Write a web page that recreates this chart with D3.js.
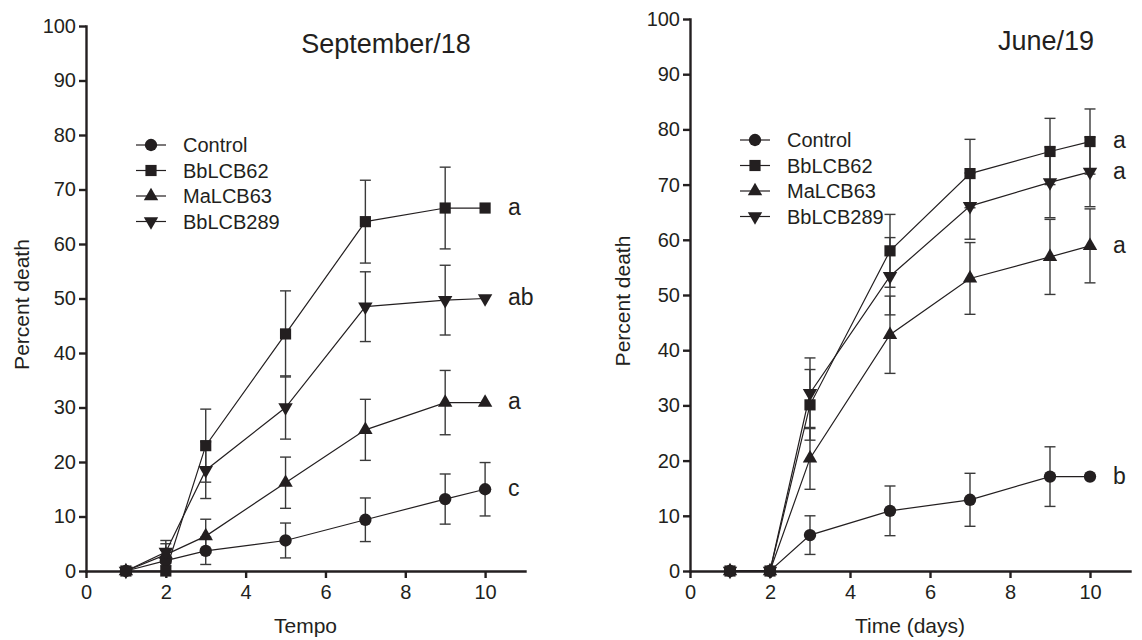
<!DOCTYPE html>
<meta charset="utf-8">
<title>Percent death</title>
<style>
body {
  margin: 0;
  background: #fff;
}
svg {
  font-family: "Liberation Sans", Arial, sans-serif;
  fill: #231f20;
}
.axis path, .axis line {
  stroke: #231f20;
  stroke-width: 2.4px;
}
.axis text {
  font-size: 20px;
  fill: #231f20;
}
.trend {
  fill: none;
  stroke: #231f20;
  stroke-width: 1.2px;
}
.err {
  stroke: #3a3a3a;
  stroke-width: 1.4px;
}
</style>
<svg width="1142" height="640"></svg>
<script src="https://cdn.jsdelivr.net/npm/d3@7"></script>
<script>
// days sampled
var days = [1, 2, 3, 5, 7, 9, 10];
var seriesNames = ["Control", "BbLCB62", "MaLCB63", "BbLCB289"];

// September/18 (mean, sem)
var septControl = [0, 1.9, 3.7, 5.6, 9.4, 13.2, 15.0];
var septControlErr = [0, 1.9, 2.5, 3.2, 4.0, 4.6, 4.9];
var septBb62 = [0, 0, 23.0, 43.5, 64.1, 66.6, 66.6];
var septBb62Err = [0, 0, 6.7, 7.9, 7.6, 7.5, 0];
var septMa63 = [0, 3.0, 6.4, 16.2, 25.9, 30.9, 30.9];
var septMa63Err = [0, 2.0, 3.1, 4.7, 5.6, 5.9, 0];
var septBb289 = [0, 3.5, 18.5, 30.0, 48.5, 49.7, 50.0];
var septBb289Err = [0, 2.1, 5.2, 5.8, 6.4, 6.4, 0];
var septLetters = ["c", "a", "a", "ab"];

// June/19 (mean, sem)
var juneControl = [0, 0, 6.5, 10.9, 12.9, 17.1, 17.1];
var juneControlErr = [0, 0, 3.5, 4.5, 4.8, 5.4, 0];
var juneBb62 = [0, 0, 30.1, 58.0, 72.0, 76.0, 77.8];
var juneBb62Err = [0, 0, 6.4, 6.6, 6.2, 6.0, 5.9];
var juneMa63 = [0, 0, 20.4, 42.8, 53.0, 56.9, 58.9];
var juneMa63Err = [0, 0, 5.6, 7.0, 6.5, 6.8, 6.7];
var juneBb289 = [0, 0, 32.2, 53.4, 66.1, 70.4, 72.3];
var juneBb289Err = [0, 0, 6.4, 7.0, 6.0, 6.4, 6.3];
var juneLetters = ["b", "a", "a", "a"];

var yTicks = d3.range(0, 101, 10);
var xTicks = [0, 2, 4, 6, 8, 10];

// marker per series: circle, square, triangle up, triangle down
var symbols = [
  d3.symbol().type(d3.symbolCircle).size(120),
  d3.symbol().type(d3.symbolSquare).size(125),
  d3.symbol().type(d3.symbolTriangle).size(90),
  d3.symbol().type(d3.symbolTriangle).size(90)
];
var rotations = [0, 0, 0, 180];

var panels = [
  { title: "September/18", xLabel: "Tempo",
    means: [septControl, septBb62, septMa63, septBb289],
    errs: [septControlErr, septBb62Err, septMa63Err, septBb289Err],
    letters: septLetters,
    left: 86, right: 525, top: 26, bottom: 571,
    titleX: 386, titleY: 53, legendX: 136, legendY: 145, yLabelX: 22 },
  { title: "June/19", xLabel: "Time (days)",
    means: [juneControl, juneBb62, juneMa63, juneBb289],
    errs: [juneControlErr, juneBb62Err, juneMa63Err, juneBb289Err],
    letters: juneLetters,
    left: 690, right: 1130, top: 19, bottom: 571,
    titleX: 1046, titleY: 50, legendX: 740, legendY: 140, yLabelX: 623 }
];

var svg = d3.select("svg");

panels.forEach(function(p) {
  var x = d3.scaleLinear().domain([0, 11]).range([p.left, p.right]);
  var y = d3.scaleLinear().domain([0, 100]).range([p.bottom, p.top]);
  var g = svg.append("g");

  g.append("g")
      .attr("class", "axis")
      .attr("transform", "translate(0," + p.bottom + ")")
      .call(d3.axisBottom(x).tickValues(xTicks).tickSize(7).tickSizeOuter(0).tickPadding(7));
  g.append("g")
      .attr("class", "axis")
      .attr("transform", "translate(" + p.left + ",0)")
      .call(d3.axisLeft(y).tickValues(yTicks).tickSize(7).tickSizeOuter(0).tickPadding(3));
  g.selectAll(".axis .domain").attr("stroke-linecap", "square");

  // axis titles
  g.append("text")
      .attr("x", (p.left + p.right) / 2)
      .attr("y", 633)
      .attr("text-anchor", "middle")
      .style("font-size", "21px")
      .text(p.xLabel);
  g.append("text")
      .attr("transform", "translate(" + p.yLabelX + "," + ((p.top + p.bottom) / 2 + 6) + ") rotate(-90)")
      .attr("text-anchor", "middle")
      .attr("dy", "0.35em")
      .style("font-size", "21px")
      .text("Percent death");
  g.append("text")
      .attr("x", p.titleX)
      .attr("y", p.titleY)
      .attr("text-anchor", "middle")
      .style("font-size", "27px")
      .text(p.title);

  var line = d3.line()
      .x(function(d) { return x(d.day); })
      .y(function(d) { return y(d.v); });

  var order = [0, 2, 3, 1];
  var data = p.means.map(function(m, i) {
    return days.map(function(day, j) { return { day: day, v: m[j], e: p.errs[i][j] }; });
  });

  // error bars
  order.forEach(function(i) {
    var eb = g.append("g").selectAll("g")
        .data(data[i].filter(function(d) { return d.e > 0; }))
      .enter().append("g").attr("class", "err");
    eb.append("line")
        .attr("x1", function(d) { return x(d.day); })
        .attr("x2", function(d) { return x(d.day); })
        .attr("y1", function(d) { return y(d.v - d.e); })
        .attr("y2", function(d) { return y(d.v + d.e); });
    [-1, 1].forEach(function(s) {
      eb.append("line")
          .attr("x1", function(d) { return x(d.day) - 5.5; })
          .attr("x2", function(d) { return x(d.day) + 5.5; })
          .attr("y1", function(d) { return y(d.v + s * d.e); })
          .attr("y2", function(d) { return y(d.v + s * d.e); });
    });
  });

  order.forEach(function(i) {
    g.append("path").datum(data[i]).attr("class", "trend").attr("d", line);
  });

  order.forEach(function(i) {
    g.append("g").selectAll("path")
        .data(data[i])
      .enter().append("path")
        .attr("transform", function(d) {
          return "translate(" + x(d.day) + "," + y(d.v) + ") rotate(" + rotations[i] + ")";
        })
        .attr("d", symbols[i]())
        .attr("fill", "#231f20");
  });

  // significance letters
  g.selectAll(".letter")
      .data(p.letters)
    .enter().append("text")
      .attr("class", "letter")
      .attr("x", x(10) + 23)
      .attr("y", function(d, i) { return y(p.means[i][days.length - 1]); })
      .attr("dy", "0.3em")
      .style("font-size", "23px")
      .text(function(d) { return d; });

  // legend
  var leg = g.append("g")
      .attr("transform", "translate(" + p.legendX + "," + p.legendY + ")");
  var row = leg.selectAll("g")
      .data(seriesNames)
    .enter().append("g")
      .attr("transform", function(d, i) { return "translate(0," + i * 25.5 + ")"; });
  row.append("line")
      .attr("x1", 0).attr("x2", 30)
      .attr("stroke", "#231f20").attr("stroke-width", 1.2);
  row.append("path")
      .attr("transform", function(d, i) { return "translate(15,0) rotate(" + rotations[i] + ")"; })
      .attr("d", function(d, i) { return symbols[i](); })
      .attr("fill", "#231f20");
  row.append("text")
      .attr("x", 47)
      .attr("dy", "0.35em")
      .style("font-size", "20px")
      .text(function(d) { return d; });
});
</script>
